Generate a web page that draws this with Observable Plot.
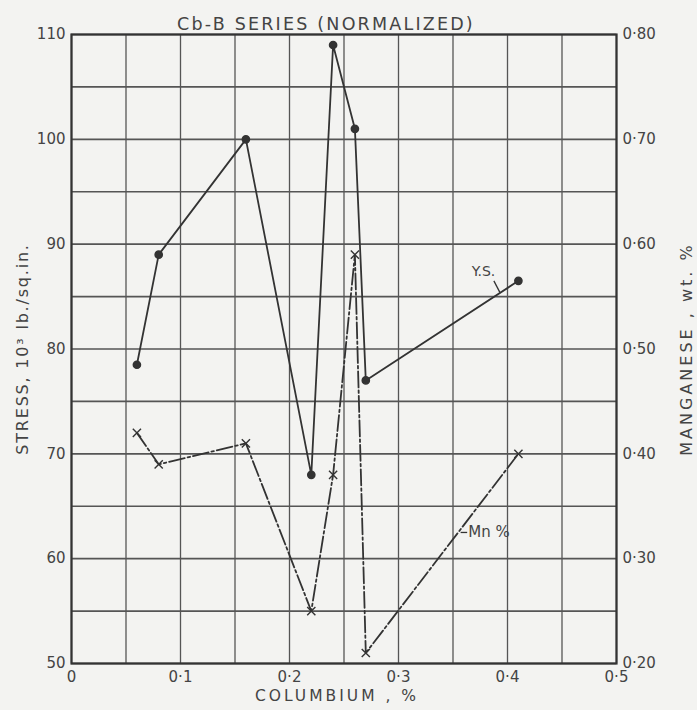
<!DOCTYPE html>
<html>
<head>
<meta charset="utf-8">
<script src="https://cdn.jsdelivr.net/npm/d3@7"></script>
<script src="https://cdn.jsdelivr.net/npm/@observablehq/plot@0.6"></script>
<style>
  html, body { margin: 0; padding: 0; background: #f3f3f1; }
  #chart svg { display: block; }
</style>
</head>
<body>
<div id="chart"></div>
<script>
// Columbium content (%) of the Cb-B series samples
const ysColumbium = [0.06, 0.08, 0.16, 0.22, 0.24, 0.26, 0.27, 0.41];
// Yield stress, 10^3 lb./sq.in.
const ysStress = [78.5, 89, 100, 68, 109, 101, 77, 86.5];

const mnColumbium = [0.06, 0.08, 0.16, 0.22, 0.24, 0.26, 0.27, 0.41];
// Manganese, wt. %
const mnPercent = [0.42, 0.39, 0.41, 0.25, 0.38, 0.59, 0.21, 0.40];

// Axis ticks and grid
const xTicks = [0, 0.1, 0.2, 0.3, 0.4, 0.5];
const xTickLabels = ["0", "0·1", "0·2", "0·3", "0·4", "0·5"];
const xGrid = [0, 0.05, 0.1, 0.15, 0.2, 0.25, 0.3, 0.35, 0.4, 0.45, 0.5];
const yTicks = [50, 60, 70, 80, 90, 100, 110];
const yTickLabels = ["50", "60", "70", "80", "90", "100", "110"];
const yGrid = [50, 55, 60, 65, 70, 75, 80, 85, 90, 95, 100, 105, 110];
const mnTickLabels = ["0·20", "0·30", "0·40", "0·50", "0·60", "0·70", "0·80"];

// Texts
const titleText = "Cb-B SERIES (NORMALIZED)";
const xLabel = "COLUMBIUM , %";
const yLabel = "STRESS, 10³ lb./sq.in.";
const y2Label = "MANGANESE , wt. %";

// Curve annotations
const ysNote = {text: "Y.S.", x: 0.378, y: 87.4, x1: 0.3875, y1: 86.5, x2: 0.393, y2: 85.4};
const mnNote = {text: "Mn %", x: 0.364, y: 62.5, x1: 0.357, y1: 62.5, x2: 0.363, y2: 62.5};

// Dual-axis mapping: manganese 0.20–0.80 on the stress 50–110 scale
const mnToStress = (m) => 50 + (m - 0.2) * 100;

const ys = ysColumbium.map((c, i) => ({c, v: ysStress[i]}));
const mn = mnColumbium.map((c, i) => ({c, v: mnToStress(mnPercent[i])}));

const ink = "#333";
const font = "'DejaVu Sans', sans-serif";

const chart = Plot.plot({
  width: 697,
  height: 710,
  marginLeft: 71,
  marginRight: 81,
  marginTop: 34,
  marginBottom: 47,
  style: {fontFamily: font, fontSize: "15px", color: "#444", background: "#f3f3f1"},
  x: {domain: [0, 0.5]},
  y: {domain: [50, 110]},
  marks: [
    Plot.ruleX(xGrid, {stroke: "#555", strokeWidth: 1.3}),
    Plot.ruleY(yGrid, {stroke: "#555", strokeWidth: 1.6}),
    Plot.frame({stroke: ink, strokeWidth: 2.2}),
    Plot.axisX({ticks: xTicks, tickFormat: (d) => xTickLabels[xTicks.indexOf(d)], tickSize: 0, tickPadding: 8, label: null, fill: "#444"}),
    Plot.axisY({anchor: "left", ticks: yTicks, tickFormat: (d) => yTickLabels[yTicks.indexOf(d)], tickSize: 0, tickPadding: 6, label: null, fill: "#444"}),
    Plot.axisY({anchor: "right", ticks: yTicks, tickFormat: (d) => mnTickLabels[yTicks.indexOf(d)], tickSize: 0, tickPadding: 6, label: null, fill: "#444"}),
    // Y.S. curve
    Plot.line(ys, {x: "c", y: "v", stroke: ink, strokeWidth: 1.8}),
    Plot.dot(ys, {x: "c", y: "v", r: 3.6, fill: ink, stroke: ink}),
    // Mn curve
    Plot.line(mn, {x: "c", y: "v", stroke: ink, strokeWidth: 1.8, strokeDasharray: "16,3,2.5,3"}),
    Plot.dot(mn, {x: "c", y: "v", symbol: "times", r: 3.8, stroke: ink, strokeWidth: 1.4}),
    // annotations
    Plot.link([ysNote], {x1: "x1", y1: "y1", x2: "x2", y2: "y2", stroke: ink, strokeWidth: 1.3}),
    Plot.text([ysNote], {x: "x", y: "y", text: "text", fontSize: 14, fill: "#444"}),
    Plot.link([mnNote], {x1: "x1", y1: "y1", x2: "x2", y2: "y2", stroke: ink, strokeWidth: 1.3}),
    Plot.text([mnNote], {x: "x", y: "y", text: "text", textAnchor: "start", fontSize: 15, fill: "#444"}),
    // title and axis labels
    Plot.text([titleText], {frameAnchor: "top", dx: -18, dy: -17, fontSize: 17.5, fill: "#444", textAnchor: "middle"}),
    Plot.text([xLabel], {frameAnchor: "bottom", dx: -7, dy: 37, fontSize: 15.5, fill: "#444", textAnchor: "middle"}),
    Plot.text([yLabel], {frameAnchor: "left", dx: -49, rotate: -90, fontSize: 16, fill: "#444", textAnchor: "middle"}),
    Plot.text([y2Label], {frameAnchor: "right", dx: 70, rotate: -90, fontSize: 16, fill: "#444", textAnchor: "middle"})
  ]
});

// widen the hand-lettered labels with letter spacing
const spacing = new Map([[titleText, 2.2], [xLabel, 3], [yLabel, 1.8], [y2Label, 3]]);
d3.select(chart).selectAll("text").each(function () {
  const s = spacing.get(this.textContent);
  if (s != null) d3.select(this).attr("letter-spacing", s);
});

document.getElementById("chart").appendChild(chart);
</script>
</body>
</html>
